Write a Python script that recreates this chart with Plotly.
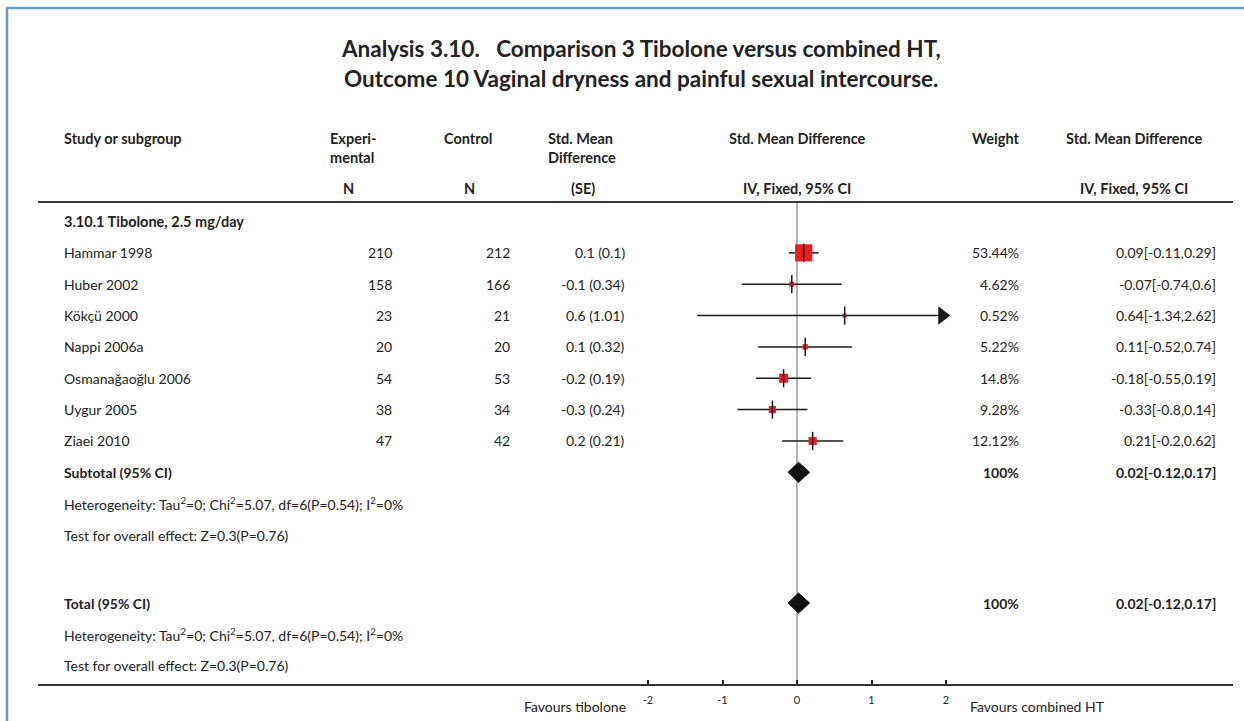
import plotly.graph_objects as go

# ---------------- data ----------------
title_line1 = "Analysis 3.10.   Comparison 3 Tibolone versus combined HT,"
title_line2 = "Outcome 10 Vaginal dryness and painful sexual intercourse."
subgroup_label = "3.10.1 Tibolone, 2.5 mg/day"
studies = ["Hammar 1998", "Huber 2002", "Kökçü 2000", "Nappi 2006a",
           "Osmanağaoğlu 2006", "Uygur 2005", "Ziaei 2010"]
exp_n = [210, 158, 23, 20, 54, 38, 47]
ctl_n = [212, 166, 21, 20, 53, 34, 42]
smd_se = ["0.1 (0.1)", "-0.1 (0.34)", "0.6 (1.01)", "0.1 (0.32)",
          "-0.2 (0.19)", "-0.3 (0.24)", "0.2 (0.21)"]
est = [0.09, -0.07, 0.64, 0.11, -0.18, -0.33, 0.21]
ci_lo = [-0.11, -0.74, -1.34, -0.52, -0.55, -0.8, -0.2]
ci_hi = [0.29, 0.6, 2.62, 0.74, 0.19, 0.14, 0.62]
weights = [53.44, 4.62, 0.52, 5.22, 14.8, 9.28, 12.12]
weight_labels = ["53.44%", "4.62%", "0.52%", "5.22%", "14.8%", "9.28%", "12.12%"]
ci_labels = ["0.09[-0.11,0.29]", "-0.07[-0.74,0.6]", "0.64[-1.34,2.62]",
             "0.11[-0.52,0.74]", "-0.18[-0.55,0.19]", "-0.33[-0.8,0.14]",
             "0.21[-0.2,0.62]"]
pooled = [0.02, -0.12, 0.17]          # estimate, lower, upper
pooled_label = "0.02[-0.12,0.17]"
pooled_weight = "100%"
het_text = "Heterogeneity: Tau<sup>2</sup>=0; Chi<sup>2</sup>=5.07, df=6(P=0.54); I<sup>2</sup>=0%"
test_text = "Test for overall effect: Z=0.3(P=0.76)"
subtotal_label = "Subtotal (95% CI)"
total_label = "Total (95% CI)"
tick_vals = [-2, -1, 0, 1, 2]
tick_text = ["-2", "-1", "0", "1", "2"]
left_fav = "Favours tibolone"
right_fav = "Favours combined HT"

# ---------------- layout constants ----------------
W, H = 1244, 721
X0_PX, UNIT_PX = 797.0, 74.5           # pixel of x=0, pixels per unit
Y0_PX, ROW_PX = 221.5, 31.35           # pixel of row 0, pixels per row
AXIS_MAX = 2.0
FONT = "Lato, Roboto, sans-serif"
TXT = "#222222"
RED = "#ec1c24"

def px_x(p):
    return p / W

def px_y(p):
    return 1 - p / H

fig = go.Figure()

# rows
n = len(studies)
study_rows = [1 + i for i in range(n)]
subtotal_row = n + 1
het1_row = n + 2
test1_row = n + 3
total_row = n + 5.17
het2_row = total_row + 1
test2_row = total_row + 2

# CI lines
xs, ys = [], []
for lo, hi, r in zip(ci_lo, ci_hi, study_rows):
    xs += [lo, min(hi, AXIS_MAX - 0.1), None]
    ys += [r, r, None]
fig.add_trace(go.Scatter(x=xs, y=ys, mode="lines",
                         line=dict(color="#1a1a1a", width=1.5),
                         hoverinfo="skip", showlegend=False))

# arrows for truncated CIs
arr_x = [AXIS_MAX - 0.05 for hi in ci_hi if hi > AXIS_MAX]
arr_y = [r for hi, r in zip(ci_hi, study_rows) if hi > AXIS_MAX]
fig.add_trace(go.Scatter(x=arr_x, y=arr_y, mode="markers",
                         marker=dict(symbol="triangle-right", size=16,
                                     color="#1a1a1a", opacity=1,
                                     line=dict(width=0)),
                         hoverinfo="skip", showlegend=False))

# weight squares
sizes = [max(4.0, 2.35 * w ** 0.5) for w in weights]
fig.add_trace(go.Scatter(x=est, y=study_rows, mode="markers",
                         marker=dict(symbol="square", size=sizes, color=RED,
                                     opacity=1, line=dict(width=0)),
                         hoverinfo="skip", showlegend=False))
# point-estimate ticks
fig.add_trace(go.Scatter(x=est, y=study_rows, mode="markers",
                         marker=dict(symbol="line-ns", size=13, opacity=1,
                                     line=dict(color="#1a1a1a", width=1.5)),
                         hoverinfo="skip", showlegend=False))

# diamonds
for r in [subtotal_row, total_row]:
    e, lo, hi = pooled
    h = 0.32
    fig.add_trace(go.Scatter(x=[lo, e, hi, e, lo], y=[r, r - h, r, r + h, r],
                             mode="lines", fill="toself", fillcolor="#111111",
                             line=dict(color="#111111", width=1),
                             hoverinfo="skip", showlegend=False))

# ---------------- shapes ----------------
shapes = []
# zero line
shapes.append(dict(type="line", xref="x", yref="paper", x0=0, x1=0,
                   y0=px_y(202), y1=px_y(685),
                   line=dict(color="#9a9a9a", width=1.5), layer="below"))
# header and bottom rules
for yy in (202, 685):
    shapes.append(dict(type="line", xref="paper", yref="paper",
                       x0=px_x(38), x1=px_x(1233), y0=px_y(yy), y1=px_y(yy),
                       line=dict(color="#333333", width=1.8)))
# blue frame
shapes.append(dict(type="line", xref="paper", yref="paper",
                   x0=px_x(7), x1=px_x(7), y0=px_y(7), y1=0,
                   line=dict(color="#6a9ad8", width=2.5)))
shapes.append(dict(type="line", xref="paper", yref="paper",
                   x0=px_x(6), x1=1, y0=px_y(8), y1=px_y(8),
                   line=dict(color="#6a9ad8", width=2.5)))

# ---------------- annotations ----------------
ann = []

def add(text, xpx, ypx, anchor="left", size=14, bold=False):
    ann.append(dict(text=f"<b>{text}</b>" if bold else text,
                    x=px_x(xpx), y=px_y(ypx), xref="paper", yref="paper",
                    xanchor=anchor, yanchor="middle", showarrow=False,
                    font=dict(family=FONT, size=size, color=TXT)))

def add_row(text, xpx, row, anchor="left", size=14, bold=False):
    ann.append(dict(text=f"<b>{text}</b>" if bold else text,
                    x=px_x(xpx), y=row, xref="paper", yref="y",
                    xanchor=anchor, yanchor="middle", showarrow=False,
                    font=dict(family=FONT, size=size, color=TXT)))

# title
add(title_line1, 641, 49, "center", 22.5, True)
add(title_line2, 641, 79, "center", 22.5, True)

# header
HS = 14.5
add("Study or subgroup", 62, 138, "left", HS, True)
add("Experi-", 328, 138, "left", HS, True)
add("mental", 328, 157, "left", HS, True)
add("N", 349, 188, "center", HS, True)
add("Control", 442, 138, "left", HS, True)
add("N", 469, 188, "center", HS, True)
add("Std. Mean", 546, 138, "left", HS, True)
add("Difference", 546, 157, "left", HS, True)
add("(SE)", 583, 188, "center", HS, True)
add("Std. Mean Difference", 797, 138, "center", HS, True)
add("IV, Fixed, 95% CI", 797, 188, "center", HS, True)
add("Weight", 1022, 138, "right", HS, True)
add("Std. Mean Difference", 1134, 138, "center", HS, True)
add("IV, Fixed, 95% CI", 1134, 188, "center", HS, True)

# body
add_row(subgroup_label, 62, 0, size=14.5, bold=True)
for i in range(n):
    r = study_rows[i]
    add_row(studies[i], 62, r)
    add_row(str(exp_n[i]), 394, r, "right")
    add_row(str(ctl_n[i]), 512, r, "right")
    add_row(smd_se[i], 627, r, "right")
    add_row(weight_labels[i], 1021, r, "right")
    add_row(ci_labels[i], 1218, r, "right")

for lab, r, hr, tr in [(subtotal_label, subtotal_row, het1_row, test1_row),
                       (total_label, total_row, het2_row, test2_row)]:
    add_row(lab, 62, r, bold=True)
    add_row(pooled_weight, 1021, r, "right", bold=True)
    add_row(pooled_label, 1218, r, "right", bold=True)
    add_row(het_text, 62, hr)
    add_row(test_text, 62, tr)

# favours labels
add(left_fav, 628, 706, "right", 14)
add(right_fav, 968, 706, "left", 14)

fig.update_layout(
    width=W, height=H, autosize=False,
    margin=dict(l=0, r=0, t=0, b=0, pad=0),
    paper_bgcolor="white", plot_bgcolor="white",
    showlegend=False, shapes=shapes, annotations=ann,
    xaxis=dict(range=[-X0_PX / UNIT_PX, (W - X0_PX) / UNIT_PX],
               domain=[0, 1], anchor="free", position=px_y(685),
               showgrid=False, zeroline=False, showline=False,
               tickvals=tick_vals, ticktext=tick_text,
               ticks="inside", ticklen=5, tickwidth=1.5, tickcolor="#222",
               tickfont=dict(family=FONT, size=11, color=TXT),
               ticklabelstandoff=7, fixedrange=True),
    yaxis=dict(range=[(H - Y0_PX) / ROW_PX, -Y0_PX / ROW_PX],
               domain=[0, 1], visible=False, fixedrange=True),
)

fig.write_html("out.html", include_plotlyjs=True, full_html=True,
               config={"displayModeBar": False},
               post_script="document.body.style.margin='0';")
